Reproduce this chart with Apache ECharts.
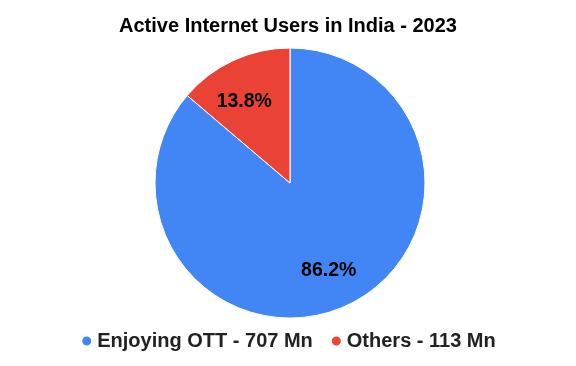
<!DOCTYPE html>
<html>
<head>
<meta charset="utf-8">
<script src="https://cdn.jsdelivr.net/npm/echarts@6/dist/echarts.min.js"></script>
<style>
html,body{margin:0;padding:0;background:#fff;}
#main{width:576px;height:366px;}
</style>
</head>
<body>
<div id="main"></div>
<script>
const categories = ["Enjoying OTT - 707 Mn", "Others - 113 Mn"];
const values = [707, 113];
const colors = ["#4285F4", "#EA4335"];

const data = categories.map((c, i) => ({ name: c, value: values[i], itemStyle: { color: colors[i] } }));
const labelPads = [[0, 4, 0, 0], [0, 10, 0, 0]];
const labelData = categories.map((c, i) => ({ name: c, value: values[i], label: { padding: labelPads[i] } }));

const chart = echarts.init(document.getElementById('main'), null, { renderer: 'canvas' });
chart.setOption({
  animation: false,
  backgroundColor: '#ffffff',
  title: {
    text: 'Active Internet Users in India - 2023',
    left: 'center',
    top: 11,
    textStyle: { fontFamily: 'Liberation Sans, Arial', fontSize: 20, fontWeight: 'bold', color: '#000' }
  },
  legend: {
    data: categories,
    top: 326,
    left: 'center',
    icon: 'circle',
    itemWidth: 11,
    itemHeight: 11,
    itemGap: 17,
    textStyle: { fontFamily: 'Liberation Sans, Arial', fontSize: 20, fontWeight: 'bold', color: '#222' }
  },
  series: [
    {
      type: 'pie',
      center: [290, 183],
      radius: [0, 135],
      startAngle: 90,
      clockwise: true,
      data: data,
      itemStyle: { borderColor: '#fff', borderWidth: 1 },
      label: { show: false },
      labelLine: { show: false },
      emphasis: { disabled: true }
    },
    {
      type: 'pie',
      center: [290, 183],
      radius: [52, 136],
      startAngle: 90,
      clockwise: true,
      silent: true,
      data: labelData,
      itemStyle: { color: 'rgba(0,0,0,0)' },
      legendHoverLink: false,
      label: {
        show: true,
        position: 'inside',
        formatter: p => (p.dataIndex === 1 ? '\n' : '') + p.percent.toFixed(1) + '%',
        fontFamily: 'Liberation Sans, Arial',
        fontSize: 19.5,
        lineHeight: 14,
        fontWeight: 'bold',
        color: '#000'
      },
      labelLine: { show: false },
      emphasis: { disabled: true }
    }
  ]
});
</script>
</body>
</html>
